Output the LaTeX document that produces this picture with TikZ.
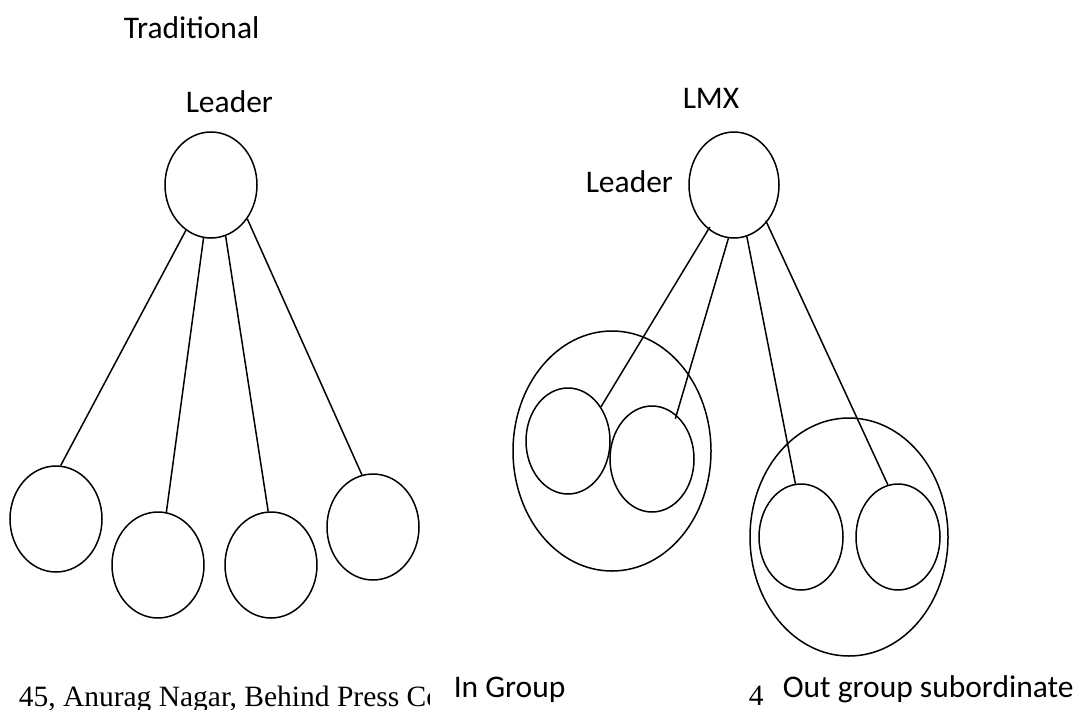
\documentclass[tikz,border=0pt]{standalone}
\usepackage{fontspec}
\usetikzlibrary{shapes.geometric}
\newfontfamily\lblfont{Carlito}
\newfontfamily\addrfont{Liberation Serif}
\begin{document}
\begin{tikzpicture}[x=1pt,y=-1pt,
  line width=1.5pt,
  member/.style={draw, ellipse, inner sep=0pt, minimum width=92pt, minimum height=106pt},
  small/.style={draw, ellipse, inner sep=0pt, minimum width=84pt, minimum height=106pt},
  group/.style={draw, ellipse, inner sep=0pt, minimum width=198pt, minimum height=240pt},
  lbl/.style={font=\lblfont\fontsize{31.5}{38}\selectfont, inner sep=0pt, anchor=base west},
  addr/.style={font=\addrfont\fontsize{29.5}{34}\selectfont, inner sep=0pt, anchor=base west},
  tie/.style={line width=1.5pt}]
\useasboundingbox (0,0) rectangle (1083,709);

% ---- traditional model ----
\node[lbl] (tradtitle) at (123,39) {Traditional};
\node[lbl] (tradlabel) at (185,112) {Leader};
\node[member] (L1) at (211,185) {};
\node[member] (t1) at (56,519) {};
\node[member] (t2) at (158,565) {};
\node[member] (t3) at (271,565) {};
\node[member] (t4) at (373,527) {};
\draw[tie] (L1.241) -- (t1.85);
\draw[tie] (L1.262) -- (t2.81);
\draw[tie] (L1.286) -- (t3.93);
\draw[tie] (L1.317) -- (t4.102);

% ---- LMX model ----
\node[lbl] (lmxtitle) at (682,108) {LMX};
\node[lbl] (lmxlabel) at (585,192) {Leader};
\node[member, minimum width=90pt] (L2) at (734,185) {};
\node[group] (ingroup) at (612,451) {};
\node[group, minimum height=238pt] (outgroup) at (849,537) {};
\node[small] (a) at (568,441) {};
\node[small] (b) at (652,459) {};
\node[small] (c) at (801,537) {};
\node[small] (d) at (898,537) {};
\draw[tie, shorten <=-3pt] (L2.240) -- (a.46);
\draw[tie, shorten >=-4pt] (L2.264) -- (b.61);
\draw[tie] (L2.284) -- (c.96);
\draw[tie, shorten <=-2pt] (L2.311) -- (d.101);

% ---- bottom line ----
\node[addr] (address) at (18,706) {45, Anurag Nagar, Behind Press Co};
\node[lbl, fill=white, inner xsep=24pt, inner ysep=6pt] (inlbl) at (429,697) {In Group};
\node[addr] (pagenum) at (748,705) {4};
\node[lbl] (outlbl) at (782,697) {Out group subordinate};
\end{tikzpicture}
\end{document}
